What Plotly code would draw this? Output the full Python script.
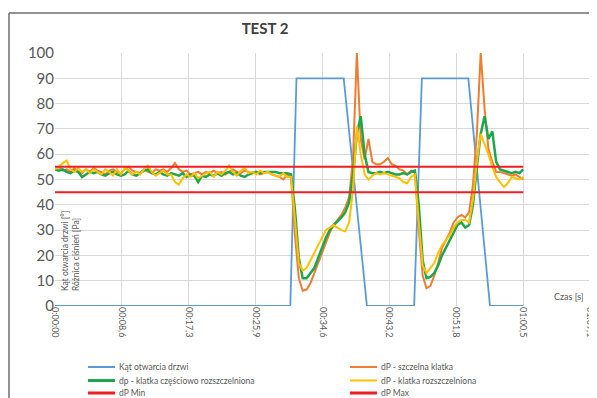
import plotly.graph_objects as go

# ---------------- data ----------------
TIME_STEP = 0.5  # seconds between samples of the dP series

dp_szczelna = [  # orange, 0 .. 60.5 s
    54, 55, 53.5, 54, 53, 54.5, 53, 52.5, 54, 53,
    54.5, 53.5, 53, 52, 53.5, 54, 53, 52.5, 54, 55,
    53.5, 53, 52.5, 54, 53, 52.5, 54, 53.5, 54, 53,
    54.5, 56.5, 54, 53, 53.5, 52, 52.5, 53, 52, 53,
    52.5, 53.5, 52.5, 53, 52, 53, 54, 53, 52.5, 53.5,
    53, 52.5, 53, 52, 52.5, 53, 52, 51.5, 51, 50,
    52,
    51, 28, 11, 6, 6.5, 9, 13, 17, 21, 25,
    29, 32, 34, 36, 39, 43, 58, 100, 66, 58,
    66, 57, 56, 56, 57, 58.5, 56, 55.5, 54, 53.5,
    52, 53.5,
    53, 30, 12, 7, 8, 12, 17, 23, 26, 29,
    33, 35, 36, 35, 37, 48, 68, 100, 78, 62,
    57, 53, 53, 52.5, 52, 51.5, 52, 51, 50,
]

dp_czesciowo = [  # green
    54, 53.5, 54, 53, 52.5, 53.5, 53, 51, 52, 53,
    52.5, 53, 52, 51.5, 52.5, 53, 52, 51.5, 52, 53.5,
    52, 51.5, 52.5, 53.5, 54, 52.5, 52, 53, 52, 51.5,
    52.5, 52, 51.5, 52.5, 51, 52, 51.5, 49, 51.5, 51,
    52, 51.5, 52.5, 51.5, 52.5, 53, 52, 52.5, 51.5, 51,
    52, 52.5, 53, 52.5, 53, 53, 53, 53, 52.5, 52.5,
    52.5,
    52, 38, 19, 11, 11, 13, 15, 19, 23, 27,
    30, 32, 33.5, 35, 37, 41, 52, 68, 75, 60,
    53, 52.5, 52.5, 53, 52.5, 53, 52.5, 52, 52, 52.5,
    52, 53,
    53.5, 40, 18, 11, 11.5, 13, 16, 20, 23, 26,
    29, 32, 33, 31, 32, 40, 55, 68, 75, 66,
    69, 57, 54, 53.5, 53, 52.5, 53, 52.5, 54,
]

dp_rozszczelniona = [  # yellow
    54, 55, 56.5, 57.5, 54, 53, 54.5, 53, 54, 52.5,
    54, 53, 52, 54, 53, 51.5, 54, 52, 54.5, 53.5,
    52, 53, 52, 54, 55.5, 53, 51.5, 52.5, 53.5, 52,
    52, 49, 48, 50.5, 52, 51, 52.5, 50.5, 51.5, 52.5,
    53, 51, 53, 52, 53.5, 55.5, 53, 51.5, 53.5, 54.5,
    52.5, 53, 52, 53.5, 52.5, 53, 52, 51.5, 51, 52.5,
    51,
    51, 33, 17, 14, 15, 18, 21, 24, 27, 30,
    31, 32, 31, 30, 29.5, 33, 46, 71, 60, 52,
    50, 51.5, 52.5, 52, 52.5, 52, 51.5, 51, 50.5, 49,
    48.5, 51,
    52, 33, 16, 13, 15, 17, 21, 24, 26, 28,
    31, 33, 34, 34, 33, 42, 57, 68, 64, 60,
    55, 51, 49, 47, 48.5, 51, 50.5, 50, 51,
]

door_time = [0, 30.4, 31.2, 37.3, 40.3, 46.4, 47.4, 53.4, 56.2, 60.5]
door_angle = [0, 0, 90, 90, 0, 0, 90, 90, 0, 0]

limit_time = [0, 60.5]
dp_min = [45, 45]
dp_max = [55, 55]

x_tickvals = [0, 8.64, 17.28, 25.92, 34.56, 43.2, 51.84, 60.48, 69.12]
x_ticktext = ["0:00:00", "00:08,6", "00:17,3", "00:25,9", "00:34,6",
              "00:43,2", "00:51,8", "01:00,5", "01:09,1"]

names = ["Kąt otwarcia drzwi", "dP - szczelna klatka",
         "dp - klatka częściowo rozszczelniona", "dP - klatka rozszczelniona",
         "dP Min", "dP Max"]

dp_time = [i * TIME_STEP for i in range(len(dp_szczelna))]

# ---------------- styles ----------------
BLUE = "#5B9BD5"
ORANGE = "#ED7D31"
GREEN = "#1FA64A"
YELLOW = "#FFC000"
RED = "#F01E23"
GRID = "#D9D9D9"
TXT = "#595959"
FONT = "Lato"

fig = go.Figure()
fig.add_trace(go.Scatter(x=door_time, y=door_angle, mode="lines", name=names[0],
                         line=dict(color=BLUE, width=1.8)))
fig.add_trace(go.Scatter(x=dp_time, y=dp_szczelna, mode="lines", name=names[1],
                         line=dict(color=ORANGE, width=2)))
fig.add_trace(go.Scatter(x=dp_time, y=dp_czesciowo, mode="lines", name=names[2],
                         line=dict(color=GREEN, width=2.5)))
fig.add_trace(go.Scatter(x=dp_time, y=dp_rozszczelniona, mode="lines", name=names[3],
                         line=dict(color=YELLOW, width=2)))
fig.add_trace(go.Scatter(x=limit_time, y=dp_min, mode="lines", name=names[4],
                         line=dict(color=RED, width=2)))
fig.add_trace(go.Scatter(x=limit_time, y=dp_max, mode="lines", name=names[5],
                         line=dict(color=RED, width=2)))

# The page body adds an 8 px offset, so the figure is 8 px smaller and all
# screen positions below are converted by subtracting that offset.
OFF = 8
W, H = 597 - OFF, 398 - OFF
L, T = 55 - OFF, 53 - OFF           # plot area left/top on screen: 55, 53
PR, PB = 590 - OFF, 306 - OFF       # plot area right/bottom on screen: 590, 306
R, B = W - PR, H - PB
PW, PH = PR - L, PB - T


def px_x(px):
    return (px - OFF - L) / PW


def px_y(py):
    return (PB - (py - OFF)) / PH


fig.update_layout(
    width=W, height=H,
    margin=dict(l=L, r=R, t=T, b=B),
    paper_bgcolor="white", plot_bgcolor="white",
    showlegend=False,
    font=dict(family=FONT, color=TXT),
    title=dict(text="<b>TEST 2</b>", x=(265 - OFF) / W, xanchor="center",
               y=1 - (29 - OFF) / H, yanchor="middle",
               font=dict(family=FONT, size=15, color="#404040")),
)
fig.update_xaxes(range=[0, 69.12], tickvals=x_tickvals, ticktext=x_ticktext,
                 tickangle=90, showgrid=True, gridcolor=GRID, gridwidth=1,
                 zeroline=False, showline=False, ticks="",
                 tickfont=dict(family=FONT, size=9, color=TXT), automargin=False)
fig.update_yaxes(range=[0, 100], dtick=10, showgrid=True, gridcolor=GRID, gridwidth=1,
                 zeroline=False, showline=False, ticks="",
                 tickfont=dict(family=FONT, size=15, color=TXT), automargin=False)

# axis titles drawn inside the plot area
fig.add_annotation(text="Kąt otwarcia drzwi [°]<br>Różnica ciśnień [Pa]",
                   xref="paper", yref="paper", x=px_x(70), y=px_y(251),
                   xanchor="center", yanchor="middle",
                   textangle=-90, showarrow=False, align="left",
                   font=dict(family=FONT, size=8.5, color=TXT))
fig.add_annotation(text="Czas [s]", xref="paper", yref="paper",
                   x=px_x(569), y=px_y(296), xanchor="center", yanchor="middle",
                   showarrow=False, font=dict(family=FONT, size=9, color=TXT))

# chart frame (top and left edges visible)
fig.add_shape(type="line", xref="paper", yref="paper",
              x0=px_x(9), x1=px_x(610), y0=px_y(13), y1=px_y(13),
              line=dict(color="#6E6E6E", width=1.5))
fig.add_shape(type="line", xref="paper", yref="paper",
              x0=px_x(9), x1=px_x(9), y0=px_y(13), y1=px_y(410),
              line=dict(color="#6E6E6E", width=1.5))

# manual legend (two columns)
legend_items = [
    (names[0], BLUE, 2, 88, 367),
    (names[2], GREEN, 3, 88, 380.5),
    (names[4], RED, 3, 88, 393),
    (names[1], ORANGE, 2, 350, 367),
    (names[3], YELLOW, 2, 350, 380.5),
    (names[5], RED, 3, 350, 393),
]
for name, color, width, lx, ly in legend_items:
    fig.add_shape(type="line", xref="paper", yref="paper",
                  x0=px_x(lx), x1=px_x(lx + 27), y0=px_y(ly), y1=px_y(ly),
                  line=dict(color=color, width=width))
    fig.add_annotation(text=name, xref="paper", yref="paper",
                       x=px_x(lx + 29), y=px_y(ly), xanchor="left", yanchor="middle",
                       showarrow=False, font=dict(family=FONT, size=8.5, color=TXT))

fig.write_html("out.html")
